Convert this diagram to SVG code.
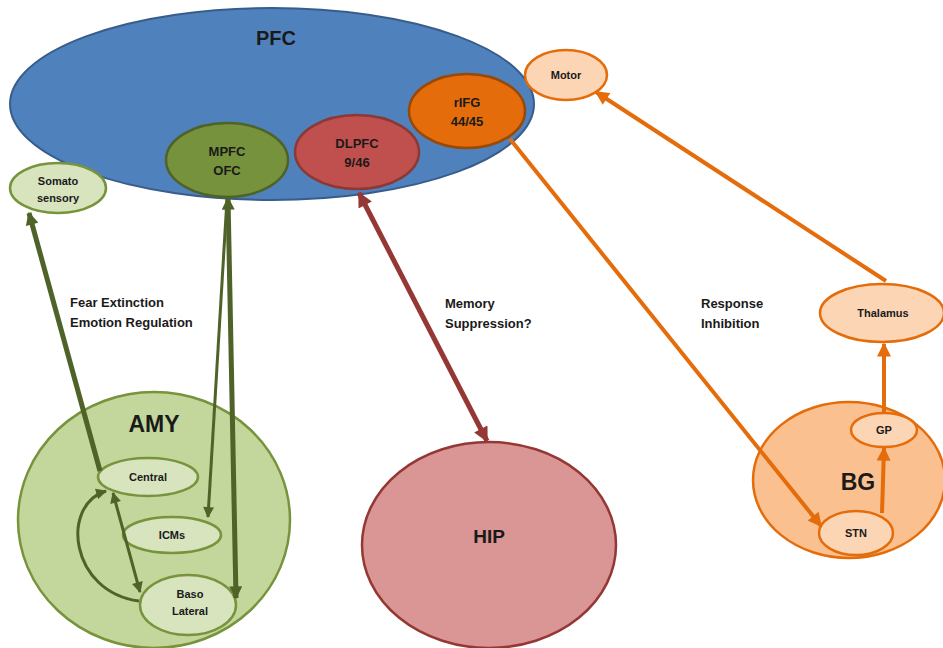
<svg xmlns="http://www.w3.org/2000/svg" width="943" height="648" viewBox="0 0 943 648">
<style>
text{font-family:"Liberation Sans",Arial,sans-serif;font-weight:bold;fill:#1a1a1a;text-anchor:middle}
.s{font-size:11px}
.m{font-size:13px}
.l{font-size:13px;text-anchor:start}
.g{stroke:#4f6228;fill:none}
.r{stroke:#953735;fill:none}
.o{stroke:#e46c0a;fill:none}
</style>
<defs>
<marker id="ag" viewBox="0 0 10 10" refX="9" refY="5" markerUnits="userSpaceOnUse" markerWidth="14" markerHeight="13" orient="auto-start-reverse"><path d="M0,0 L10,5 L0,10 z" fill="#4f6228"/></marker>
<marker id="agS" viewBox="0 0 10 10" refX="9" refY="5" markerUnits="userSpaceOnUse" markerWidth="12" markerHeight="11" orient="auto-start-reverse"><path d="M0,0 L10,5 L0,10 z" fill="#4f6228"/></marker>
<marker id="ar" viewBox="0 0 10 10" refX="9" refY="5" markerUnits="userSpaceOnUse" markerWidth="16" markerHeight="15" orient="auto-start-reverse"><path d="M0,0 L10,5 L0,10 z" fill="#953735"/></marker>
<marker id="ao" viewBox="0 0 10 10" refX="9" refY="5" markerUnits="userSpaceOnUse" markerWidth="15" markerHeight="14" orient="auto-start-reverse"><path d="M0,0 L10,5 L0,10 z" fill="#e46c0a"/></marker>
</defs>
<rect width="943" height="648" fill="#ffffff"/>

<g id="PFC"><ellipse cx="272" cy="104" rx="262" ry="96" fill="#4f81bd" stroke="#385d8a" stroke-width="2"/><text x="276" y="45" style="font-size:20px">PFC</text></g>
<g id="Motor"><ellipse cx="566" cy="75" rx="41" ry="25" fill="#fcd5b5" stroke="#e46c0a" stroke-width="2.5"/><text class="s" x="566" y="79">Motor</text></g>
<g id="MPFC"><ellipse cx="227" cy="160" rx="61" ry="37" fill="#76923c" stroke="#4f6228" stroke-width="2.5"/><text class="m" x="227" y="156">MPFC</text><text class="m" x="227" y="175">OFC</text></g>
<g id="DLPFC"><ellipse cx="357" cy="152" rx="62" ry="37" fill="#c0504d" stroke="#8c3836" stroke-width="2.5"/><text class="m" x="357" y="148">DLPFC</text><text class="m" x="357" y="167">9/46</text></g>
<g id="rIFG"><ellipse cx="467" cy="111" rx="58" ry="37" fill="#e46c0a" stroke="#984807" stroke-width="2.5"/><text class="m" x="467" y="107">rIFG</text><text class="m" x="467" y="126">44/45</text></g>
<g id="Somato"><ellipse cx="58" cy="188" rx="48" ry="25" fill="#d7e4bd" stroke="#77933c" stroke-width="2.5"/><text class="s" x="58" y="185">Somato</text><text class="s" x="58" y="202">sensory</text></g>

<g id="AMY"><ellipse cx="154" cy="520" rx="136" ry="128" fill="#c3d69b" stroke="#77933c" stroke-width="2.5"/><text x="154" y="432" style="font-size:23px">AMY</text></g>
<g id="Central"><ellipse cx="148" cy="477" rx="50" ry="19" fill="#d7e4bd" stroke="#77933c" stroke-width="2.5"/><text class="s" x="148" y="481">Central</text></g>
<g id="ICMs"><ellipse cx="172" cy="535" rx="49" ry="18" fill="#d7e4bd" stroke="#77933c" stroke-width="2.5"/><text class="s" x="172" y="539">ICMs</text></g>
<g id="BasoLateral"><ellipse cx="188" cy="605" rx="48" ry="30" fill="#d7e4bd" stroke="#77933c" stroke-width="2.5"/><text class="s" x="190" y="598">Baso</text><text class="s" x="190" y="615">Lateral</text></g>

<g id="HIP"><ellipse cx="489" cy="545" rx="127" ry="103" fill="#d99694" stroke="#953735" stroke-width="2.5"/><text x="489" y="543" style="font-size:19px">HIP</text></g>

<g id="BG"><ellipse cx="849" cy="480" rx="96" ry="78" fill="#fac090" stroke="#e46c0a" stroke-width="2.5"/><text x="858" y="490" style="font-size:23px">BG</text></g>
<g id="GP"><ellipse cx="884" cy="430" rx="33" ry="17" fill="#fcd5b5" stroke="#e46c0a" stroke-width="2.5"/><text class="s" x="884" y="434">GP</text></g>
<g id="STN"><ellipse cx="856" cy="533" rx="37" ry="22" fill="#fcd5b5" stroke="#e46c0a" stroke-width="2.5"/><text class="s" x="856" y="537">STN</text></g>
<g id="Thalamus"><ellipse cx="882" cy="313" rx="62" ry="29" fill="#fcd5b5" stroke="#e46c0a" stroke-width="2.5"/><text class="s" x="883" y="317">Thalamus</text></g>

<g id="connectors">
<line class="g" x1="100" y1="471" x2="29" y2="213" stroke-width="5" marker-end="url(#ag)"/>
<line class="g" x1="227" y1="199" x2="208" y2="517" stroke-width="3" marker-end="url(#agS)"/>
<line class="g" x1="228" y1="198" x2="236" y2="598" stroke-width="5" marker-start="url(#ag)" marker-end="url(#ag)"/>
<line class="g" x1="113" y1="493" x2="140" y2="592" stroke-width="3" marker-start="url(#agS)" marker-end="url(#agS)"/>
<path class="g" d="M139,601 C70,592 60,505 106,491" stroke-width="3" marker-end="url(#agS)"/>
<line class="r" x1="359" y1="193" x2="487" y2="441" stroke-width="5" marker-start="url(#ar)" marker-end="url(#ar)"/>
<line class="o" x1="510" y1="139" x2="821" y2="526" stroke-width="4" marker-end="url(#ao)"/>
<line class="o" x1="886" y1="281" x2="596" y2="92" stroke-width="4" marker-end="url(#ao)"/>
<line class="o" x1="884" y1="413" x2="884" y2="344" stroke-width="4" marker-end="url(#ao)"/>
<line class="o" x1="882" y1="513" x2="884" y2="448" stroke-width="4" marker-end="url(#ao)"/>
</g>

<g id="labels">
<text class="l" x="70" y="307">Fear Extinction</text>
<text class="l" x="70" y="327">Emotion Regulation</text>
<text class="l" x="445" y="308">Memory</text>
<text class="l" x="445" y="328">Suppression?</text>
<text class="l" x="701" y="308">Response</text>
<text class="l" x="701" y="328">Inhibition</text>
</g>
</svg>
